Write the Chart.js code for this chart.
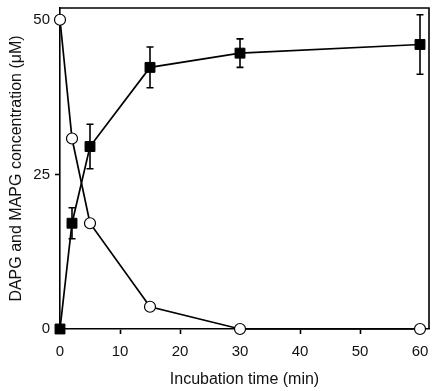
<!DOCTYPE html>
<html>
<head>
<meta charset="utf-8">
<script src="https://cdn.jsdelivr.net/npm/chart.js@4/dist/chart.umd.min.js"></script>
<style>
html,body{margin:0;padding:0;background:#fff;}
#wrap{width:437px;height:391px;position:relative;}
</style>
</head>
<body>
<div id="wrap"><canvas id="c" width="437" height="391"></canvas></div>
<script>
const times = [0, 2, 5, 15, 30, 60];
const squareValues = [0, 17.1, 29.5, 42.3, 44.6, 46.0];
const squareErrors = [0, 2.5, 3.6, 3.3, 2.3, 4.8];
const circleValues = [50, 30.8, 17.1, 3.6, 0, 0];
const xTicks = [0, 10, 20, 30, 40, 50, 60];
const yTicks = [0, 25, 50];
const xTitle = 'Incubation time (min)';
const yTitle = 'DAPG and MAPG concentration (\u03bcM)';

const FONT = '"Liberation Sans", Arial, Helvetica, sans-serif';

const errorBarPlugin = {
  id: 'errorBars',
  afterDatasetsDraw(chart) {
    const ctx = chart.ctx;
    const xs = chart.scales.x, ys = chart.scales.y;
    ctx.save();
    ctx.strokeStyle = '#000';
    ctx.lineWidth = 1.6;
    times.forEach((t, i) => {
      const e = squareErrors[i];
      if (!e) return;
      const px = xs.getPixelForValue(t);
      const top = ys.getPixelForValue(squareValues[i] + e);
      const bot = ys.getPixelForValue(squareValues[i] - e);
      ctx.beginPath();
      ctx.moveTo(px, top); ctx.lineTo(px, bot);
      ctx.moveTo(px - 3.5, top); ctx.lineTo(px + 3.5, top);
      ctx.moveTo(px - 3.5, bot); ctx.lineTo(px + 3.5, bot);
      ctx.stroke();
    });
    ctx.restore();
  }
};

const framePlugin = {
  id: 'frame',
  afterDraw(chart) {
    const a = chart.chartArea, ctx = chart.ctx;
    ctx.save();
    ctx.strokeStyle = '#000';
    ctx.lineWidth = 1.6;
    ctx.beginPath();
    ctx.moveTo(a.left, a.top); ctx.lineTo(a.right, a.top); ctx.lineTo(a.right, a.bottom);
    ctx.stroke();
    ctx.restore();
  }
};

new Chart(document.getElementById('c'), {
  type: 'line',
  data: {
    datasets: [
      {
        label: 'circles',
        data: times.map((t, i) => ({x: t, y: circleValues[i]})),
        borderColor: '#000',
        borderWidth: 1.7,
        pointStyle: 'circle',
        pointRadius: 5.5,
        pointBackgroundColor: '#fff',
        pointBorderColor: '#000',
        pointBorderWidth: 1.2,
        tension: 0
      },
      {
        label: 'squares',
        data: times.map((t, i) => ({x: t, y: squareValues[i]})),
        borderColor: '#000',
        borderWidth: 1.7,
        pointStyle: 'rect',
        pointRadius: 7,
        pointBackgroundColor: '#000',
        pointBorderColor: '#000',
        pointBorderWidth: 1,
        tension: 0
      }
    ]
  },
  options: {
    responsive: false,
    animation: false,
    clip: false,
    layout: {padding: {top: 7, right: 8, left: 3, bottom: 0}},
    plugins: {legend: {display: false}, tooltip: {enabled: false}},
    scales: {
      x: {
        type: 'linear',
        min: 0,
        max: 61.5,
        afterBuildTicks: s => { s.ticks = xTicks.map(v => ({value: v})); },
        afterFit: s => { s.height = 62; s.paddingLeft = 0; s.paddingRight = 0; },
        border: {color: '#000', width: 1.6},
        grid: {display: true, drawOnChartArea: false, tickLength: 5, tickColor: '#000', tickWidth: 1.6},
        ticks: {color: '#111', font: {family: FONT, size: 15}, padding: 9, maxRotation: 0},
        title: {display: true, text: xTitle, color: '#111', font: {family: FONT, size: 16}, padding: {top: 4, bottom: 2}}
      },
      y: {
        type: 'linear',
        min: 0,
        max: 51.9,
        afterBuildTicks: s => { s.ticks = yTicks.map(v => ({value: v})); },
        afterFit: s => { s.width = 57; s.paddingTop = 0; s.paddingBottom = 0; },
        border: {color: '#000', width: 1.6},
        grid: {display: true, drawOnChartArea: false, tickLength: 5, tickColor: '#000', tickWidth: 1.6},
        ticks: {color: '#111', font: {family: FONT, size: 15}, padding: 5},
        title: {display: true, text: yTitle, color: '#111', font: {family: FONT, size: 16}, padding: {bottom: 4}}
      }
    }
  },
  plugins: [errorBarPlugin, framePlugin]
});
</script>
</body>
</html>
